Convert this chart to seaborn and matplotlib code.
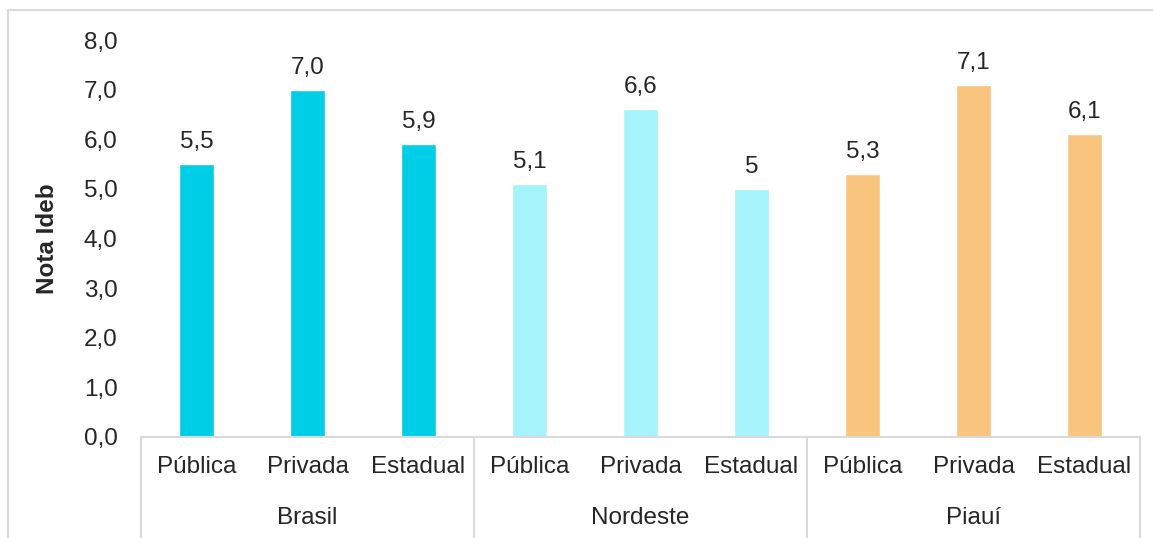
import numpy as np
import pandas as pd
import matplotlib
matplotlib.use("Agg")
import matplotlib.pyplot as plt
import matplotlib.transforms as mtransforms
from matplotlib.patches import Rectangle
import seaborn as sns

# -----------------------------
# Data
# -----------------------------
regioes = ["Brasil", "Nordeste", "Piauí"]
redes = ["Pública", "Privada", "Estadual"]
notas_brasil = [5.5, 7.0, 5.9]
notas_nordeste = [5.1, 6.6, 5.0]
notas_piaui = [5.3, 7.1, 6.1]
rotulos = ["5,5", "7,0", "5,9", "5,1", "6,6", "5", "5,3", "7,1", "6,1"]
y_ticks = [0, 1, 2, 3, 4, 5, 6, 7, 8]

cores = {"Brasil": "#00CDE6", "Nordeste": "#A6F3FC", "Piauí": "#F9C47E"}

df = pd.DataFrame({
    "regiao": np.repeat(regioes, 3),
    "rede": redes * 3,
    "nota": notas_brasil + notas_nordeste + notas_piaui,
})
df["slot"] = df["regiao"] + "-" + df["rede"]

# -----------------------------
# Style
# -----------------------------
sns.set_style("white")
plt.rcParams["font.family"] = ["Liberation Sans", "DejaVu Sans"]
FS = 17.5

fig = plt.figure(figsize=(11.53, 5.38), dpi=100)
ax = fig.add_axes([141 / 1153, 101 / 538, 999 / 1153, 397 / 538])

# outer chart border
fig.patches.append(Rectangle((8 / 1153, -0.05), 1.1, (538 - 10) / 538 + 0.05,
                             transform=fig.transFigure, fill=False,
                             edgecolor="#D9D9D9", linewidth=1.5, zorder=0))

sns.barplot(data=df, x="slot", y="nota", hue="regiao", palette=cores,
            dodge=False, width=0.315, saturation=1, legend=False, ax=ax)

# data labels
i = 0
for cont in ax.containers:
    n = len(cont.patches)
    ax.bar_label(cont, labels=rotulos[i:i + n], padding=8, fontsize=FS)
    i += n

ax.set_ylim(0, 8)
ax.set_yticks(y_ticks)
ax.set_yticklabels([f"{v:.1f}".replace(".", ",") for v in y_ticks], fontsize=FS)
ax.tick_params(axis="y", length=0, pad=17)
ax.set_ylabel("Nota Ideb", fontsize=FS, fontweight="bold", labelpad=18)

ax.set_xlim(-0.5, 8.5)
ax.set_xticks(range(9))
ax.set_xticklabels(df["rede"], fontsize=FS)
ax.tick_params(axis="x", length=0, pad=14)
ax.set_xlabel("")

for s in ["top", "right", "left"]:
    ax.spines[s].set_visible(False)
ax.spines["bottom"].set_color("#D9D9D9")
ax.spines["bottom"].set_linewidth(1.5)

# two-level category axis: separators and group labels
trans = mtransforms.blended_transform_factory(ax.transData, ax.transAxes)
for xs in [-0.5, 2.5, 5.5, 8.5]:
    ax.plot([xs, xs], [0, -0.26], color="#D9D9D9", linewidth=1.5,
            transform=trans, clip_on=False)
for k, reg in enumerate(regioes):
    ax.text(3 * k + 1, -0.205, reg, transform=trans, ha="center", va="center",
            fontsize=FS)

plt.savefig("out.png", dpi=100)
plt.close()
